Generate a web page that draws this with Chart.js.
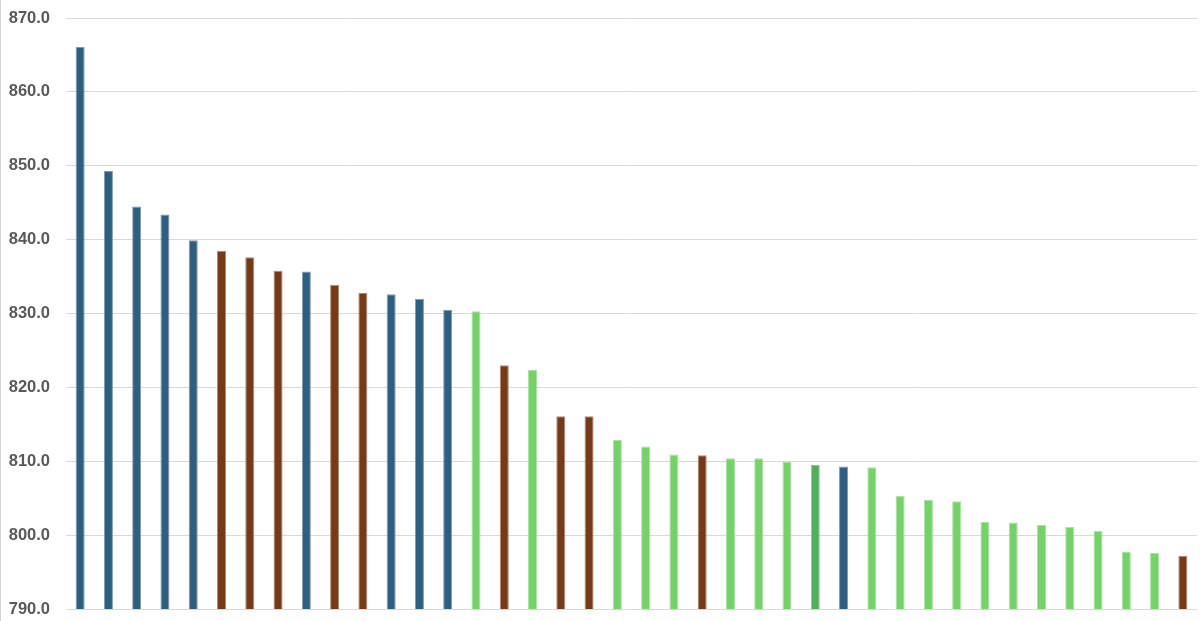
<!DOCTYPE html>
<html>
<head>
<meta charset="utf-8">
<script src="https://cdn.jsdelivr.net/npm/chart.js@4"></script>
<style>
  html, body { margin: 0; padding: 0; background: #fff; }
  #wrap { position: relative; width: 1200px; height: 621px; box-sizing: border-box; border-left: 1px solid #d4d4d4; }
</style>
</head>
<body>
<div id="wrap"><canvas id="barChart"></canvas></div>
<script>
// categorias (sin etiquetas visibles en la imagen)
const categories = Array.from({ length: 40 }, (_, i) => 'Item ' + (i + 1));

// valores
const values = [
  866.1, 849.3, 844.5, 843.4, 839.9, 838.5, 837.6, 835.8, 835.7, 833.9,
  832.8, 832.6, 832.0, 830.5, 830.3, 823.0, 822.4, 816.1, 816.1, 812.9,
  812.0, 810.9, 810.8, 810.4, 810.4, 809.9, 809.5, 809.3, 809.2, 805.3,
  804.8, 804.6, 801.8, 801.7, 801.4, 801.1, 800.6, 797.8, 797.6, 797.2
];

// grupo de cada barra
const groups = [
  'A', 'A', 'A', 'A', 'A', 'B', 'B', 'B', 'A', 'B',
  'B', 'A', 'A', 'A', 'C', 'B', 'C', 'B', 'B', 'C',
  'C', 'C', 'B', 'C', 'C', 'C', 'D', 'A', 'C', 'C',
  'C', 'C', 'C', 'C', 'C', 'C', 'C', 'C', 'C', 'B'
];

const yTicks = [790, 800, 810, 820, 830, 840, 850, 860, 870];

const fillColors = { A: '#305E80', B: '#743A19', C: '#77D16B', D: '#54AD5C' };
const edgeColors = { A: '#7f9bb2', B: '#b08a76', C: '#a8e3a0', D: '#8fcc94' };

new Chart(document.getElementById('barChart'), {
  type: 'bar',
  data: {
    labels: categories,
    datasets: [{
      data: values,
      backgroundColor: groups.map(g => fillColors[g]),
      borderColor: groups.map(g => edgeColors[g]),
      borderWidth: 1,
      barPercentage: 0.32,
      categoryPercentage: 1
    }]
  },
  options: {
    responsive: true,
    maintainAspectRatio: false,
    animation: false,
    layout: { padding: { top: 18, bottom: 12, right: 3, left: 0 } },
    plugins: { legend: { display: false }, tooltip: { enabled: false } },
    scales: {
      x: { display: false },
      y: {
        min: 790,
        max: 870,
        afterBuildTicks: axis => { axis.ticks = yTicks.map(v => ({ value: v })); },
        afterFit: axis => {
          axis.width = 65;
          // que el relleno de las etiquetas no empuje el area del grafico
          axis.paddingTop = 0;
          axis.paddingBottom = 0;
        },
        border: { display: false },
        grid: { color: '#d9d9d9', lineWidth: 1, drawTicks: false },
        ticks: {
          padding: 16,
          color: '#595959',
          font: { family: 'Liberation Sans, Arial, sans-serif', size: 16.5, weight: 'bold' },
          callback: v => Number(v).toFixed(1)
        }
      }
    }
  }
});
</script>
</body>
</html>
